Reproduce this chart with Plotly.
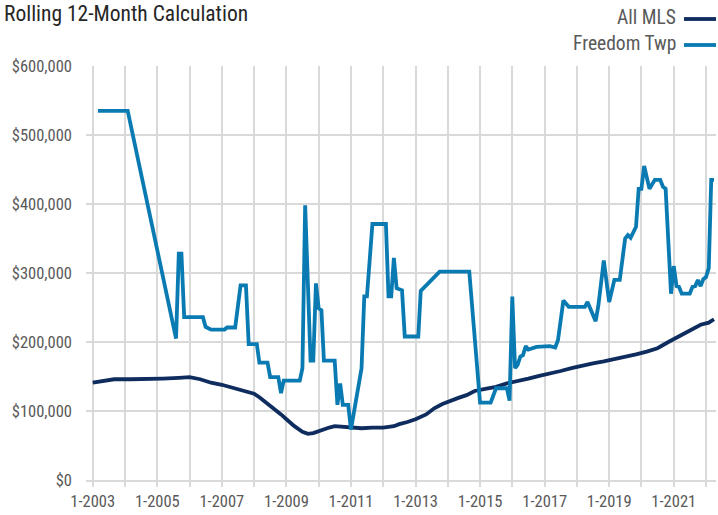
import plotly.graph_objects as go

# ---------------- data ----------------
mls_dates = ["2003-01", "2003-05", "2003-09", "2004-03", "2004-09", "2005-03", "2005-09",
             "2006-01", "2006-05", "2006-09", "2007-01", "2007-05", "2007-09", "2008-01",
             "2008-03", "2008-05", "2008-08", "2008-11", "2009-01", "2009-04", "2009-07",
             "2009-09", "2009-11", "2010-01", "2010-03", "2010-05", "2010-07", "2010-10",
             "2011-01", "2011-05", "2011-09", "2012-01", "2012-05", "2012-07", "2012-10",
             "2013-01", "2013-05", "2013-08", "2013-11", "2014-02", "2014-05", "2014-08",
             "2014-11", "2015-03", "2015-07", "2015-11", "2016-03", "2016-07", "2016-11",
             "2017-03", "2017-07", "2017-11", "2018-03", "2018-07", "2018-11", "2019-03",
             "2019-07", "2019-11", "2020-03", "2020-07", "2020-11", "2021-03", "2021-07",
             "2021-11", "2022-02", "2022-04"]
mls_values = [141, 144, 146, 146, 146, 147, 148,
              149, 146, 141, 138, 134, 129, 125,
              120, 114, 104, 95, 88, 78, 70,
              67, 68, 71, 73, 76, 78, 77,
              76, 75, 76, 76, 78, 81, 84,
              88, 95, 104, 110, 115, 119, 123,
              129, 132, 135, 140, 143, 147, 151,
              154, 158, 162, 166, 169, 172, 175,
              178, 182, 186, 191, 200, 208, 216,
              225, 228, 233]

twp_dates = ["2003-03", "2004-02", "2005-08", "2005-09", "2005-10", "2005-11", "2006-06",
             "2006-07", "2006-09", "2007-02", "2007-03", "2007-06", "2007-08", "2007-10",
             "2007-11", "2008-02", "2008-03", "2008-06", "2008-07", "2008-10", "2008-11",
             "2008-12", "2009-06", "2009-07", "2009-08", "2009-10", "2009-11", "2009-12",
             "2010-01", "2010-02", "2010-03", "2010-07", "2010-08", "2010-09", "2010-10",
             "2010-12", "2011-01", "2011-05", "2011-06", "2011-07", "2011-09", "2012-02",
             "2012-03", "2012-04", "2012-05", "2012-06", "2012-08", "2012-09", "2013-02",
             "2013-03", "2013-04", "2013-10", "2014-09", "2015-01", "2015-05", "2015-07",
             "2015-11", "2015-12", "2016-01", "2016-02", "2016-03", "2016-04", "2016-05",
             "2016-06", "2016-07", "2016-10", "2017-03", "2017-05", "2017-06", "2017-08",
             "2017-10", "2018-04", "2018-05", "2018-08", "2018-09", "2018-11", "2019-01",
             "2019-03", "2019-05", "2019-07", "2019-08", "2019-09", "2019-11", "2019-12",
             "2020-01", "2020-02", "2020-04", "2020-06", "2020-08", "2020-09", "2020-10",
             "2020-12", "2021-01", "2021-02", "2021-03", "2021-04", "2021-07", "2021-08",
             "2021-09", "2021-10", "2021-11", "2021-12", "2022-01", "2022-02", "2022-03",
             "2022-04"]
twp_values = [535, 535, 205, 328, 328, 236, 236,
              222, 218, 218, 221, 221, 282, 282,
              197, 197, 170, 170, 149, 149, 126,
              144, 144, 162, 398, 173, 173, 285,
              249, 246, 173, 173, 109, 140, 109,
              109, 73, 162, 266, 266, 371, 371,
              266, 266, 322, 278, 275, 208, 208,
              274, 278, 302, 302, 112, 112, 133,
              133, 115, 266, 162, 167, 179, 181,
              194, 189, 193, 194, 192, 203, 260,
              251, 251, 258, 230, 253, 318, 258,
              290, 290, 350, 355, 351, 367, 422,
              422, 455, 422, 435, 435, 425, 422,
              270, 310, 281, 280, 270, 270, 280,
              281, 290, 281, 291, 294, 307, 435,
              435]

x_tick_vals = [f"{y}-01-01" for y in range(2003, 2023)]
x_tick_text = [f"1-{y}" if (y - 2003) % 2 == 0 else "" for y in range(2003, 2023)]
y_tick_vals = [0, 100000, 200000, 300000, 400000, 500000, 600000]

series_names = ["All MLS", "Freedom Twp"]
series_colors = ["#0E2C5E", "#0A7BB2"]

# ---------------- figure ----------------
FONT = "Roboto Condensed, Liberation Sans Narrow, sans-serif"

fig = go.Figure()
fig.add_trace(go.Scatter(x=mls_dates, y=[v * 1000 for v in mls_values], mode="lines",
                         name=series_names[0], line=dict(color=series_colors[0], width=3.8),
                         showlegend=False))
fig.add_trace(go.Scatter(x=twp_dates, y=[v * 1000 for v in twp_values], mode="lines",
                         name=series_names[1], line=dict(color=series_colors[1], width=3.8),
                         showlegend=False))

W, H = 718, 515
L, R, T, B = 86, 2, 66, 35
pw, ph = W - L - R, H - T - B

def px_x(px):
    return (px - L) / pw

def px_y(py):
    return (H - B - py) / ph

# manual legend (text, then the line sample to its right)
for i, (name, col) in enumerate(zip(series_names, series_colors)):
    yc = 18 + i * 26
    fig.add_annotation(x=px_x(678), y=px_y(yc), xref="paper", yref="paper",
                       text=name, showarrow=False, xanchor="right", yanchor="middle",
                       font=dict(family=FONT, size=19.5, color="#595959"))
    fig.add_shape(type="line", xref="paper", yref="paper",
                  x0=px_x(684), x1=px_x(716), y0=px_y(yc + 1), y1=px_y(yc + 1),
                  line=dict(color=col, width=3.8))

fig.update_layout(
    width=W, height=H,
    margin=dict(l=L, r=R, t=T, b=B),
    paper_bgcolor="white", plot_bgcolor="white",
    title=dict(text="Rolling 12-Month Calculation", xref="container", yref="container",
               x=4 / W, y=1 - 13 / H, xanchor="left", yanchor="middle",
               font=dict(family=FONT, size=21.5, color="#262626")),
    font=dict(family=FONT, size=16.5, color="#595959"),
)
fig.update_xaxes(type="date", range=["2002-10-17", "2022-04-24"],
                 tickvals=x_tick_vals, ticktext=x_tick_text,
                 showgrid=True, gridcolor="#D9D9D9", gridwidth=1.5,
                 ticks="outside", ticklen=5, tickcolor="#D9D9D9", tickwidth=1.5,
                 showline=True, linecolor="#D9D9D9", linewidth=1.5,
                 tickfont=dict(family=FONT, size=16.5, color="#595959"),
                 zeroline=False)
fig.update_yaxes(range=[0, 600000], tickvals=y_tick_vals, tickformat="$,.0f",
                 showgrid=True, gridcolor="#D9D9D9", gridwidth=1.5,
                 zeroline=False, showline=False, ticks="", ticklabelstandoff=13,
                 tickfont=dict(family=FONT, size=16.5, color="#595959"))

fig.write_html("out.html", config={"displayModeBar": False},
               post_script="document.body.style.margin='0';")
